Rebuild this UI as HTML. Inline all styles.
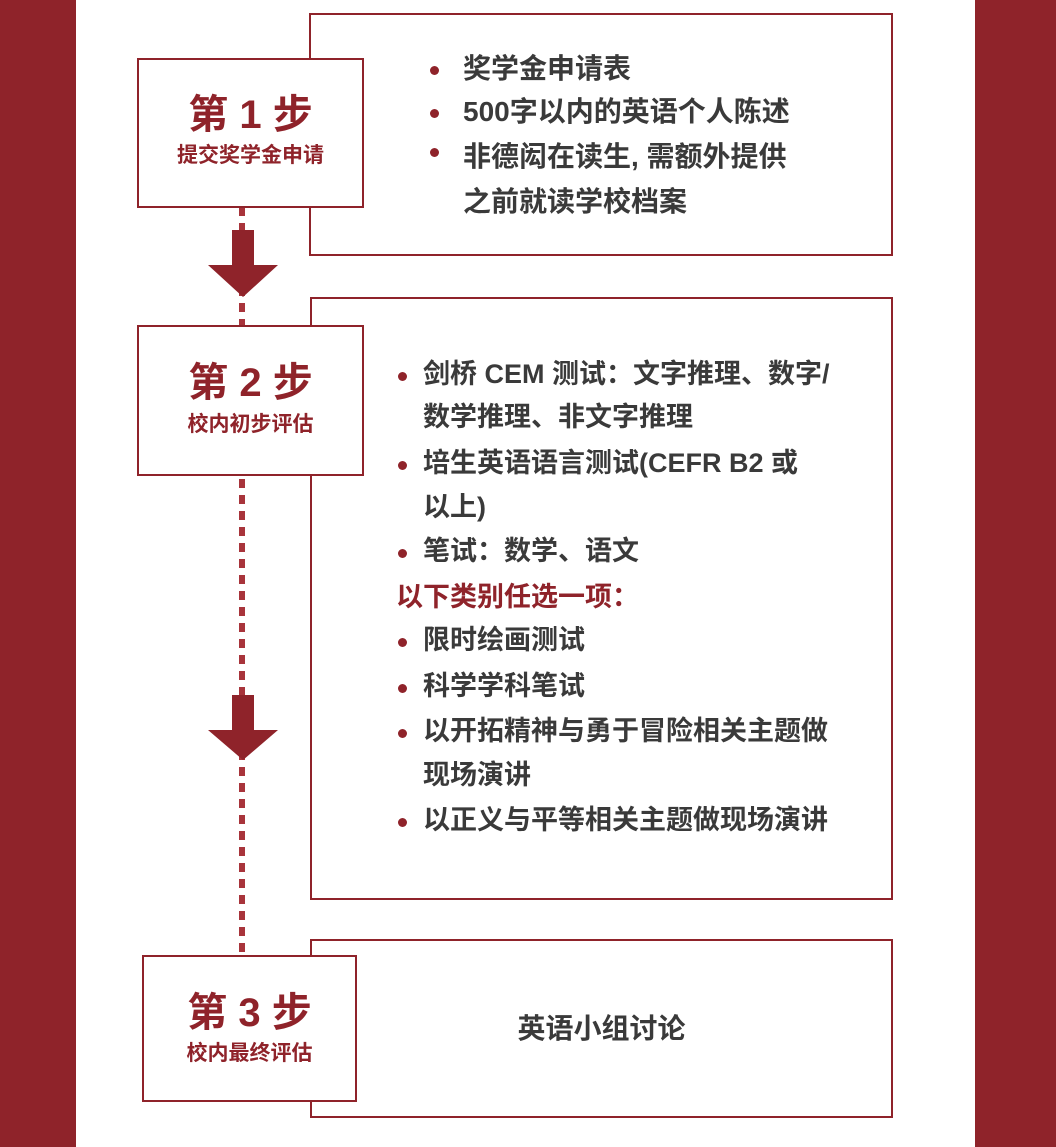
<!DOCTYPE html>
<html><head><meta charset="utf-8"><style>
body{margin:0;width:1056px;height:1147px;position:relative;background:#fff;overflow:hidden;font-family:"Liberation Sans","Noto Sans CJK SC",sans-serif;}
.bar{position:absolute;top:0;height:1147px;background:#8f232a;}
.box{position:absolute;border:2.5px solid #8f232a;background:#fff;box-sizing:border-box;}
.t{position:absolute;white-space:nowrap;font-weight:bold;color:#3a3a3a;line-height:1;}
.dot{position:absolute;width:9px;height:9px;border-radius:50%;background:#8f232a;}
.st{position:absolute;text-align:center;color:#8f232a;font-weight:bold;line-height:1;}
</style></head><body>
<div class="bar" style="left:0;width:76px"></div>
<div class="bar" style="left:975px;width:81px"></div>

<div style="position:absolute;left:239px;top:207px;width:6px;height:750px;background:repeating-linear-gradient(to bottom,#a8343b 0 9px,transparent 9px 16px)"></div>

<div class="box" style="left:309px;top:13px;width:584px;height:243px"></div>
<div class="box" style="left:137px;top:58px;width:227px;height:150px"></div>
<div class="box" style="left:310px;top:297px;width:583px;height:603px"></div>
<div class="box" style="left:137px;top:325px;width:227px;height:151px"></div>
<div class="box" style="left:310px;top:939px;width:583px;height:179px"></div>
<div class="box" style="left:142px;top:955px;width:215px;height:147px"></div>

<svg style="position:absolute;left:0;top:0" width="1056" height="1147">
<path d="M232 230H254V265H278L243 297L208 265H232Z" fill="#8f232a"/>
<path d="M232 695H254V730H278L243 760L208 730H232Z" fill="#8f232a"/>
</svg>

<div class="st" style="left:137px;width:227px;top:95px;font-size:40px">第 1 步</div>
<div class="st" style="left:137px;width:227px;top:145px;font-size:21px">提交奖学金申请</div>
<div class="st" style="left:137px;width:227px;top:363px;font-size:40px">第 2 步</div>
<div class="st" style="left:137px;width:227px;top:414px;font-size:21px">校内初步评估</div>
<div class="st" style="left:142px;width:215px;top:993px;font-size:40px">第 3 步</div>
<div class="st" style="left:142px;width:215px;top:1043px;font-size:21px">校内最终评估</div>

<div class="dot" style="left:430px;top:66px"></div>
<div class="t" style="left:463px;top:55px;font-size:28px">奖学金申请表</div>
<div class="dot" style="left:430px;top:109px"></div>
<div class="t" style="left:463px;top:98px;font-size:28px">500字以内的英语个人陈述</div>
<div class="dot" style="left:430px;top:148px"></div>
<div class="t" style="left:463px;top:143px;font-size:28px">非德闳在读生, 需额外提供</div>
<div class="t" style="left:463px;top:188px;font-size:28px">之前就读学校档案</div>

<div class="dot" style="left:398px;top:372px"></div>
<div class="t" style="left:423px;top:361px;font-size:27px">剑桥 CEM 测试：文字推理、数字/</div>
<div class="t" style="left:423px;top:404px;font-size:27px">数学推理、非文字推理</div>
<div class="dot" style="left:398px;top:461px"></div>
<div class="t" style="left:423px;top:450px;font-size:27px">培生英语语言测试(CEFR B2 或</div>
<div class="t" style="left:423px;top:494px;font-size:27px">以上)</div>
<div class="dot" style="left:398px;top:549px"></div>
<div class="t" style="left:423px;top:538px;font-size:27px">笔试：数学、语文</div>
<div class="t" style="left:396px;top:584px;font-size:27px;color:#8f232a">以下类别任选一项：</div>
<div class="dot" style="left:398px;top:638px"></div>
<div class="t" style="left:423px;top:627px;font-size:27px">限时绘画测试</div>
<div class="dot" style="left:398px;top:684px"></div>
<div class="t" style="left:423px;top:673px;font-size:27px">科学学科笔试</div>
<div class="dot" style="left:398px;top:729px"></div>
<div class="t" style="left:423px;top:718px;font-size:27px">以开拓精神与勇于冒险相关主题做</div>
<div class="t" style="left:423px;top:762px;font-size:27px">现场演讲</div>
<div class="dot" style="left:398px;top:818px"></div>
<div class="t" style="left:423px;top:807px;font-size:27px">以正义与平等相关主题做现场演讲</div>

<div class="t" style="left:310px;width:583px;text-align:center;top:1015px;font-size:28px">英语小组讨论</div>
</body></html>
